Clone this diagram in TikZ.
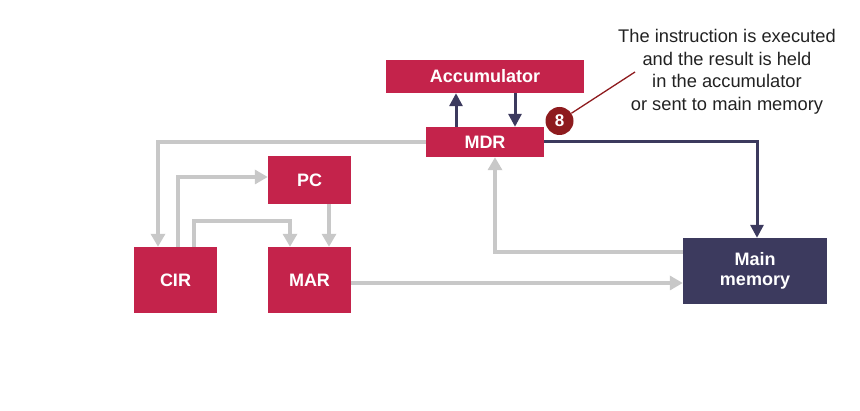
\documentclass[tikz,border=0pt]{standalone}
\usepackage{fontspec}
\setmainfont{Liberation Sans}
\usetikzlibrary{arrows.meta}
\definecolor{regred}{HTML}{C4234B}
\definecolor{memnavy}{HTML}{3C3A5E}
\definecolor{wiregrey}{HTML}{C8C8C8}
\definecolor{stepred}{HTML}{8E1B1E}
\definecolor{notegrey}{HTML}{222222}
\begin{document}
\begin{tikzpicture}[x=1pt,y=-1pt,
		reg/.style={fill=regred,text=white,font=\fontsize{18}{20}\selectfont\bfseries,inner sep=0pt,align=center},
		mem/.style={reg,fill=memnavy},
		greywire/.style={draw=wiregrey,line width=3.5pt,-{Triangle[length=13pt,width=14pt]}},
		navywire/.style={draw=memnavy,line width=3pt,-{Triangle[length=13pt,width=13pt]}}]
		\useasboundingbox (0,0) rectangle (860,411);

		\path[fill] (485,76.5) node[reg,minimum width=198pt,minimum height=33pt] (acc) {Accumulator};
		\path[fill] (485,142) node[reg,minimum width=118pt,minimum height=30pt] (mdr) {MDR};
		\path[fill] (309.5,180) node[reg,minimum width=83pt,minimum height=48pt] (pc) {PC};
		\path[fill] (175.5,280) node[reg,minimum width=83pt,minimum height=66pt] (cir) {CIR};
		\path[fill] (309.5,280) node[reg,minimum width=83pt,minimum height=66pt] (mar) {MAR};
		\path[fill] (755,271) node[mem,minimum width=144pt,minimum height=66pt] (main) {Main\\memory};

		\path[fill] (559.5,121) node[circle,fill=stepred,text=white,minimum size=28pt,inner sep=0pt,font=\fontsize{17}{17}\selectfont\bfseries] (eight) {8};
		\path (727,72) node[align=center,text=notegrey,font=\fontsize{18.3}{22.5}\selectfont] (note) {The instruction is executed\\and the result is held\\in the accumulator\\or sent to main memory};
		\coordinate (noteend) at (635,72);
		\coordinate (marbend) at (290,221);

		\path[draw,stepred,line width=1.3pt] (eight) -- (noteend);

		\path[draw,navywire] ([xshift=-29pt]mdr.north) -- ([xshift=-29pt]mdr.north |- acc.south);
		\path[draw,navywire] ([xshift=30pt]acc.south) -- ([xshift=30pt]acc.south |- mdr.north);
		\path[draw,navywire] (mdr.east) -| ([xshift=2pt]main.north);

		\path[draw,greywire] ([yshift=19pt]main.west) -| ([xshift=10pt]mdr.south);
		\path[draw,greywire] ([yshift=-3pt]mar.east) -- ([yshift=-3pt]mar.east -| main.west);
		\path[draw,greywire] (mdr.west) -| ([xshift=-17.5pt]cir.north);
		\path[draw,greywire] ([xshift=2.5pt]cir.north) |- ([yshift=3pt]pc.west);
		\path[draw,greywire] ([xshift=18.5pt]cir.north) |- (marbend) -- (marbend |- mar.north);
		\path[draw,greywire] ([xshift=19.5pt]pc.south) -- ([xshift=19.5pt]mar.north);
	\end{tikzpicture}
\end{document}
